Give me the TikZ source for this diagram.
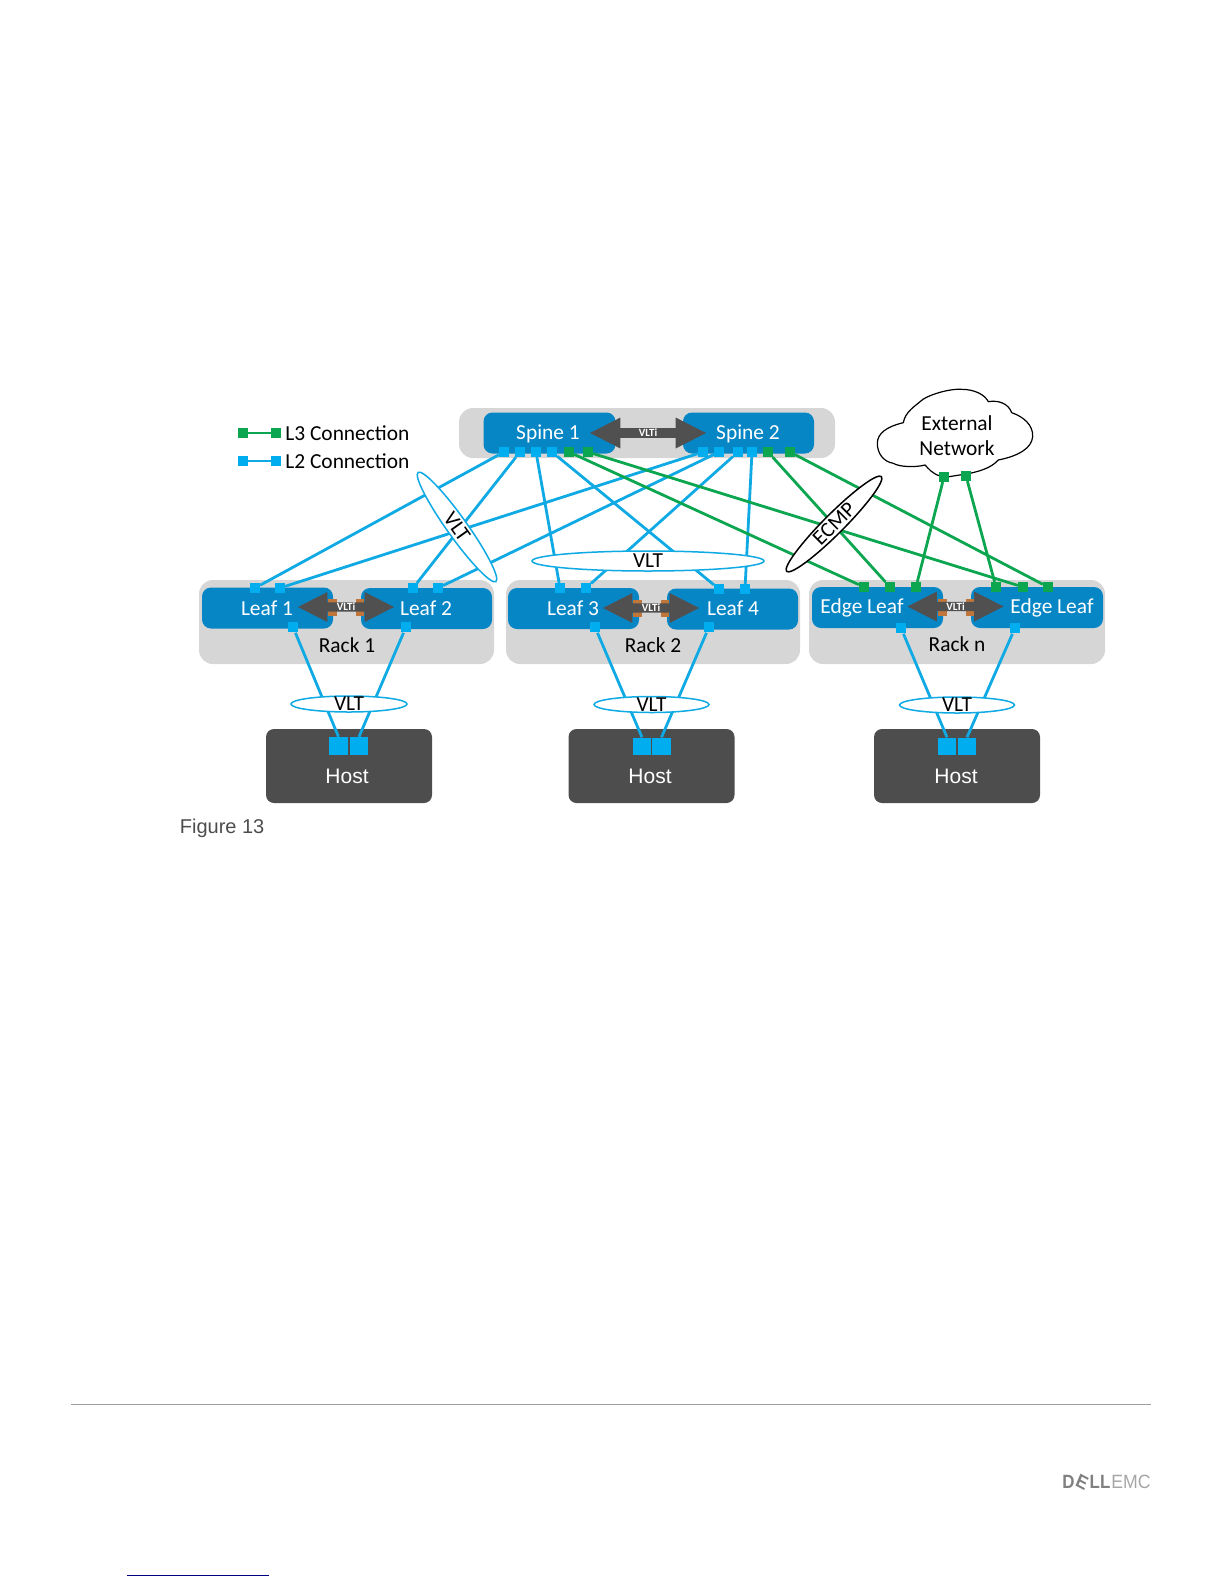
\documentclass[tikz,border=0pt]{standalone}
\usepackage{fontspec}
\setmainfont{Carlito}
\newfontfamily\arialfont{Liberation Sans}
\usetikzlibrary{shapes.geometric,shapes.arrows}
\definecolor{rackgray}{HTML}{D6D6D6}
\definecolor{boxblue}{HTML}{0786C6}
\definecolor{lblue}{HTML}{0FA9E4}
\definecolor{pblue}{HTML}{00AEEF}
\definecolor{lgreen}{HTML}{0DA650}
\definecolor{hostgray}{HTML}{4D4D4D}
\definecolor{arrowgray}{HTML}{505050}
\definecolor{vltorange}{HTML}{C0763A}
\tikzset{
  rackbox/.style={fill=rackgray,draw=none,rounded corners=7pt,inner sep=0pt},
  swbox/.style={fill=boxblue,draw=none,rounded corners=4.5pt,inner sep=0pt,minimum width=65.5pt,minimum height=20.5pt,text=white,font=\fontsize{10.7}{12}\selectfont},
  swtext/.style={text=white,inner sep=0pt,font=\fontsize{10.7}{12}\selectfont},
  lab/.style={text=black,inner sep=0pt,font=\fontsize{10.7}{12}\selectfont},
  hostbox/.style={fill=hostgray,draw=none,rounded corners=4pt,inner sep=0pt,minimum width=83pt,minimum height=37pt,text=white},
  hosttext/.style={text=white,inner sep=0pt,font=\arialfont\fontsize{10.5}{12}\selectfont},
  pb/.style={fill=pblue,draw=none,inner sep=0pt,minimum size=4.7pt},
  pbb/.style={fill=pblue,draw=none,inner sep=0pt,minimum size=5.4pt},
  pg/.style={fill=lgreen,draw=none,inner sep=0pt,minimum size=4.7pt},
  hp/.style={fill=pblue,draw=none,inner sep=0pt,minimum width=9.4pt,minimum height=8.8pt},
  bl/.style={draw=lblue,line width=1.4pt},
  gl/.style={draw=lgreen,line width=1.4pt},
  ring/.style={ellipse,draw=lblue,fill=white,line width=.75pt,inner sep=0pt},
  ringk/.style={ellipse,draw=black,fill=white,line width=.75pt,inner sep=0pt},
  vlti/.style={double arrow,fill=arrowgray,draw=none,inner sep=0pt,double arrow head extend=4.7pt,double arrow tip angle=54,minimum width=15pt,text=white,font=\bfseries\fontsize{5.5}{6}\selectfont},
  orange/.style={fill=vltorange,draw=none},
}
\newcommand{\orangetabs}[2]{%
  \fill[orange] (#1-18,#2-8) rectangle (#1-9,#2+9);
  \fill[orange] (#1+10,#2-8) rectangle (#1+18,#2+9);
}
\begin{document}
\begin{tikzpicture}[x=0.5pt,y=-0.5pt]
\useasboundingbox (0,0) rectangle (1224,1584);
% racks
\node[rackbox,minimum width=188pt,minimum height=25pt] (spinerack) at (647,433) {};
\node[rackbox,minimum width=147.5pt,minimum height=42pt] (rack1) at (346.5,622) {};
\node[rackbox,minimum width=147pt,minimum height=42pt] (rack2) at (653,622) {};
\node[rackbox,minimum width=148pt,minimum height=42pt] (rackn) at (957,622) {};
% switches
\node[swbox,minimum width=66pt] (spine1) at (549.5,433) {};
\node[swbox] (spine2) at (748.5,433) {};
\node[swbox] (leaf1) at (267.5,608) {};
\node[swbox] (leaf2) at (426.5,608.5) {};
\node[swbox] (leaf3) at (573.5,608.5) {};
\node[swbox] (leaf4) at (732.5,609) {};
\node[swbox] (edge1) at (877.5,607.5) {};
\node[swbox,minimum width=66pt] (edge2) at (1037,607.5) {};
% hosts
\node[hostbox] (host1) at (349,766) {};
\node[hostbox] (host2) at (651.5,766) {};
\node[hostbox] (host3) at (957,766) {};
% cloud
\begin{scope}[shift={(870,380)},scale=0.33333]
\draw[black,fill=white,line width=.6pt] (210,288)
 .. controls (185,280) and (175,265) .. (165,255)
 .. controls (140,262) and (90,262) .. (70,250)
 .. controls (40,245) and (22,220) .. (22,190)
 .. controls (22,160) and (50,140) .. (100,128)
 .. controls (105,95) and (140,75) .. (150,65)
 .. controls (170,45) and (240,25) .. (275,28)
 .. controls (315,28) and (345,45) .. (355,65)
 .. controls (385,60) and (415,70) .. (425,98)
 .. controls (460,110) and (490,135) .. (488,170)
 .. controls (485,205) and (445,228) .. (385,240)
 .. controls (365,262) and (335,272) .. (300,280)
 -- (225,292) -- cycle;
\end{scope}
% ports: spine 1
\node[pb] (s1a) at (504,452) {};
\node[pb] (s1b) at (520,452) {};
\node[pb] (s1c) at (536,452) {};
\node[pb] (s1d) at (552,452) {};
\node[pg] (s1e) at (569,452) {};
\node[pg] (s1f) at (588,452) {};
% ports: spine 2
\node[pb] (s2a) at (703,452) {};
\node[pb] (s2b) at (719,452) {};
\node[pb] (s2c) at (738,452) {};
\node[pb] (s2d) at (752,452) {};
\node[pg] (s2e) at (768,452) {};
\node[pg] (s2f) at (790,452) {};
% ports: leaf tops
\node[pb] (l1a) at (255,588) {};
\node[pb] (l1b) at (280,588) {};
\node[pb] (l2a) at (413,588) {};
\node[pb] (l2b) at (438,588) {};
\node[pb] (l3a) at (560,588) {};
\node[pb] (l3b) at (586,588) {};
\node[pb] (l4a) at (719,589) {};
\node[pb] (l4b) at (745,589) {};
\node[pg] (e1a) at (864,587) {};
\node[pg] (e1b) at (890,587) {};
\node[pg] (e1c) at (916,587) {};
\node[pg] (e2a) at (996,587) {};
\node[pg] (e2b) at (1023,587) {};
\node[pg] (e2c) at (1048,587) {};
% ports: leaf bottoms
\node[pbb] (l1d) at (293,627) {};
\node[pbb] (l2d) at (406,627) {};
\node[pbb] (l3d) at (595,627) {};
\node[pbb] (l4d) at (709,627) {};
\node[pbb] (e1d) at (901,628) {};
\node[pbb] (e2d) at (1015,628) {};
% ports: hosts
\node[hp] (h1a) at (338.5,746) {};
\node[hp] (h1b) at (359,746) {};
\node[hp] (h2a) at (642,746.5) {};
\node[hp] (h2b) at (661.5,746.5) {};
\node[hp] (h3a) at (947,746.5) {};
\node[hp] (h3b) at (967,746.5) {};
% ports: external network
\node[pg] (xa) at (944,477) {};
\node[pg] (xb) at (966,476) {};
% legend
\node[pg] (k3a) at (243,433) {};
\node[pg] (k3b) at (276,433) {};
\node[pb] (k2a) at (243,461) {};
\node[pb] (k2b) at (276,461) {};
\draw[gl] (k3a) -- (k3b);
\draw[bl] (k2a) -- (k2b);
\node[lab,anchor=west] (k3t) at (285,433) {L3 Connection};
\node[lab,anchor=west] (k2t) at (285,461) {L2 Connection};
% L2 links
\draw[bl] (s1a) -- (l1a);
\draw[bl] (s1b) -- (l2a);
\draw[bl] (s1c) -- (l3a);
\draw[bl] (s1d) -- (l4a);
\draw[bl] (s2a) -- (l1b);
\draw[bl] (s2b) -- (l2b);
\draw[bl] (s2c) -- (l3b);
\draw[bl] (s2d) -- (l4b);
% L3 links
\draw[gl] (s1e) -- (e1a);
\draw[gl] (s1f) -- (e2b);
\draw[gl] (s2e) -- (e1b);
\draw[gl] (s2f) -- (e2c);
\draw[gl] (xa) -- (e1c);
\draw[gl] (xb) -- (e2a);
% leaf to host
\draw[bl] (l1d) -- (h1a.north);
\draw[bl] (l2d) -- (h1b.north);
\draw[bl] (l3d) -- (h2a.north);
\draw[bl] (l4d) -- (h2b.north);
\draw[bl] (e1d) -- (h3a.north);
\draw[bl] (e2d) -- (h3b.north);
% ellipses
\node[ring,rotate=-54.5,minimum width=67pt,minimum height=10pt] (vltL) at (457,527) {};
\node[lab,rotate=-54.5] (vltLt) at (vltL.center) {VLT};
\node[ring,minimum width=116pt,minimum height=10pt] (vltM) at (648,561) {};
\node[lab] (vltMt) at (vltM.center) {VLT};
\node[ringk,rotate=45,minimum width=67pt,minimum height=10pt] (ecmp) at (834,524) {};
\node[lab,rotate=45] (ecmpt) at (ecmp.center) {ECMP};
\node[ring,minimum width=58pt,minimum height=8pt] (vltA) at (349,704) {};
\node[lab] (vltAt) at (349,704) {VLT};
\node[ring,minimum width=57.5pt,minimum height=8pt] (vltB) at (651.5,704.5) {};
\node[lab] (vltBt) at (651.5,704.5) {VLT};
\node[ring,minimum width=57.5pt,minimum height=8pt] (vltC) at (957,705) {};
\node[lab] (vltCt) at (957,705) {VLT};
% VLTi
\node[vlti,minimum height=58pt,minimum width=15.5pt] (vs) at (648,433) {VLTi};
\orangetabs{346}{607}
\node[vlti,minimum height=48pt] (v1) at (346,607) {VLTi};
\orangetabs{651}{608}
\node[vlti,minimum height=48pt] (v2) at (651,608) {VLTi};
\orangetabs{955.5}{606.5}
\node[vlti,minimum height=48pt] (v3) at (955.5,606.5) {VLTi};
% labels
\node[swtext] (t1) at (548,434) {Spine 1};
\node[swtext] (t2) at (748,434) {Spine 2};
\node[swtext] (t3) at (267,608) {Leaf 1};
\node[swtext] (t4) at (426,608) {Leaf 2};
\node[swtext] (t5) at (573,608) {Leaf 3};
\node[swtext] (t6) at (733,608) {Leaf 4};
\node[swtext] (t7) at (862,608) {Edge Leaf};
\node[swtext] (t8) at (1052,608) {Edge Leaf};
\node[lab] (r1) at (347,645) {Rack 1};
\node[lab] (r2) at (653,645) {Rack 2};
\node[lab] (r3) at (957,644) {Rack n};
\node[lab] (x1) at (957,423) {External};
\node[lab] (x2) at (957,448) {Network};
\node[hosttext] (ht1) at (347,776) {Host};
\node[hosttext] (ht2) at (650,776) {Host};
\node[hosttext] (ht3) at (956,776) {Host};
\node[anchor=west,inner sep=0pt,text=hostgray,font=\arialfont\fontsize{10}{12}\selectfont] (fig) at (179.5,828) {Figure 13};
% page furniture
\coordinate (ruleA) at (71,1404);
\coordinate (ruleB) at (1151,1404);
\draw[draw=black!38,line width=.5pt] (ruleA) -- (ruleB);
\coordinate (linkA) at (127,1575);
\coordinate (linkB) at (269,1575);
\draw[draw=blue!50!black,line width=.5pt] (linkA) -- (linkB);
\node[anchor=west,inner sep=0pt,text=black!50,xscale=.88,font=\arialfont\bfseries\fontsize{9.6}{12}\selectfont] (dell) at (1062,1482) {D\rotatebox[origin=c]{-25}{E}LL};
\node[anchor=west,inner sep=0pt,text=black!35,xscale=.92,font=\arialfont\fontsize{9.6}{12}\selectfont] (emc) at (1111,1482) {EMC};
\end{tikzpicture}
\end{document}
